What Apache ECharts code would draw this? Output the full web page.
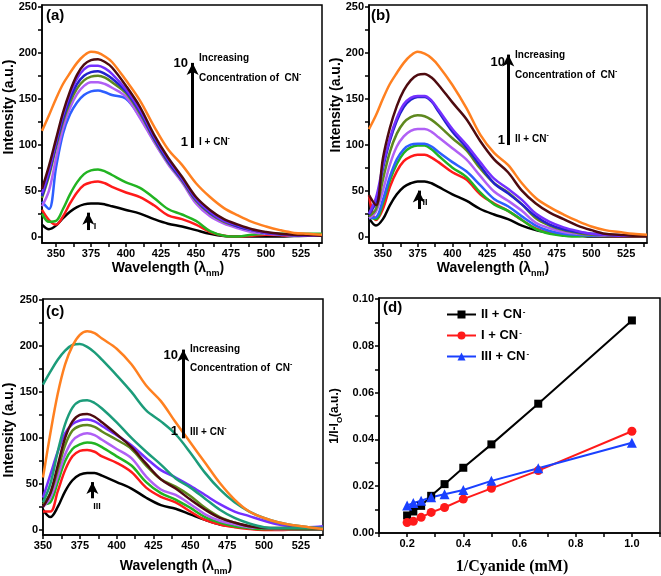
<!DOCTYPE html>
<html><head><meta charset="utf-8">
<script src="https://cdn.jsdelivr.net/npm/echarts@6/dist/echarts.min.js"></script>
<style>html,body{margin:0;padding:0;background:#fff}#c{width:661px;height:576px}</style>
</head><body><div id="c"></div>
<script>
// ---------- data ----------
const wlAB = [340,345,350,355,360,365,370,375,380,385,390,400,410,420,430,440,450,460,470,480,490,500,510,520,530,540];
const wlC  = [350,355,360,365,370,375,380,385,390,400,410,420,430,440,450,460,470,480,490,500,510,520,530,540];

// panel (a)  I + CN-
const a1 = [13,8,12,20,27,32,35,36,36,35,33,29,25,19,14,11,7,3,0.5,0,0,0,0,0.5,1,1];
const a2 = [29,18,13,22,36,48,56,59,60,58,54,48,43,34,23,19,13,5,1,0,1,2,1.5,1,1,1];
const a3 = [25,16,17,30,46,59,68,72,73,71,67,59,53,42,30,24,17,6,1,0,2,3,3,3,3,3];
const a4 = [38,30,75,112,133,146,154,158,159,157,154,150,130,104,80,60,38,24,15,10,6,4,2.5,1.5,1,1];
const a5 = [33,50,85,118,140,155,164,168,168,166,162,152,129,103,79,59,36,22,14,9,5,3,2,1,1,1];
const a6 = [42,66,97,125,146,161,170,174,175,173,168,156,134,106,81,61,39,25,16,11,7,4,2.5,1.5,1,1];
const a7 = [44,69,100,128,150,166,175,179,180,177,172,158,136,107,82,62,40,26,17,11,7,4,2.5,1.5,1,1];
const a8 = [47,72,103,132,155,172,182,186,186,183,177,160,138,109,84,63,41,27,17,12,7,4,2.5,1.5,1,1];
const a9 = [52,77,106,135,158,176,187,192,193,190,184,164,141,111,86,65,43,29,19,13,8,5,3,2,1.5,1];
const a10= [115,132,150,166,178,189,197,201,200,196,190,170,148,120,95,78,58,43,31,23,16,11,7,4,3,2];

// panel (b)  II + CN-
const b1 = [20,12,19,34,46,54,58,60,60,58,54,46,39,30,24,19,12,7,4,2,1,0,0,0,0,0];
const b2 = [45,18,30,54,71,82,87,89,89,86,81,70,62,46,36,28,18,9,4,2,1,1,1,0.5,0.5,0.5];
const b3 = [22,19,36,61,79,91,97,99,99,95,88,75,65,48,35,28,18,8,3,1,0,1,1,1,1,1];
const b4 = [20,21,40,65,84,95,100,101,101,98,92,81,71,56,41,33,22,12,6,3,2,1,1,1,1,1];
const b5 = [20,27,50,78,98,109,115,117,117,114,108,96,84,66,49,39,28,15,9,5,3,2,1,1,1,1];
const b6 = [22,30,62,92,112,124,130,132,131,127,121,107,94,74,58,48,35,20,12,7,4,2,1.5,1,1,1];
const b7 = [24,38,74,104,126,141,149,152,152,147,136,114,97,77,58,47,35,22,13,8,5,3,2,1,1,1];
const b8 = [25,42,77,107,129,144,151,153,153,148,138,117,100,81,63,52,40,25,16,10,6,3,2,1,1,1];
const b9 = [45,34,85,118,142,159,170,176,177,173,165,146,128,104,84,70,50,36,26,19,12,7,3,2,1,1];
const b10= [117,132,150,166,178,189,197,201,199,194,186,165,140,111,91,78,58,42,32,24,17,11,7,5,3,2];

// panel (c)  III + CN-
const c1 = [22,14,25,42,54,60,62,62,59,52,45,35,27,23,17,11,6,4,2,1,1,0.5,0.5,0.5];
const c2 = [20,20,42,65,80,86,87,85,80,73,63,46,36,30,20,11,6,3,1,0,0,0.5,1,1];
const c3 = [28,30,52,75,88,93,95,94,90,80,70,52,40,33,24,14,8,4,2,1,1,1,1,1];
const c4 = [25,35,58,82,97,103,105,103,98,88,78,58,44,38,28,17,10,6,3,2,1,1,1,1];
const c5 = [28,40,65,92,108,113,114,112,107,98,88,70,55,47,37,24,14,8,4,2,1.5,1,1,1];
const c6 = [35,60,85,105,115,119,120,118,113,103,92,78,65,57,48,38,28,20,15,10,6,4,3,4];
const c7 = [25,40,70,100,118,125,126,123,117,104,90,72,55,45,33,22,13,8,4,2,2,2,2,1];
const c8 = [30,50,85,115,133,140,141,138,132,117,100,85,71,56,46,34,22,13,7,3,2,2,2,2];
const c9 = [158,172,185,195,201,202,199,193,185,168,150,130,118,104,84,62,44,30,20,13,8,5,3,2];
const c10= [57,105,148,180,200,212,216,214,208,197,180,157,140,117,95,73,51,33,20,13,8,5,3,1];

// panel (d)
const dX   = [0.2,0.2222,0.25,0.2857,0.3333,0.4,0.5,0.6667,1.0];
const dII  = [0.0075,0.0092,0.0116,0.0159,0.0209,0.0279,0.0379,0.0553,0.0909];
const dI   = [0.0045,0.0050,0.0067,0.0088,0.0109,0.0145,0.0191,0.0267,0.0435];
const dIII = [0.0118,0.0128,0.0138,0.0153,0.0166,0.0184,0.0223,0.0277,0.0386];

const specLabels = [350,375,400,425,450,475,500,525];
const specTicks  = [350,362.5,375,387.5,400,412.5,425,437.5,450,462.5,475,487.5,500,512.5,525,537.5];
const intLabels  = [0,50,100,150,200,250];
const intTicks   = [0,25,50,75,100,125,150,175,200,225,250];
const dXLabels = [0.2,0.4,0.6,0.8,1.0];
const dXTicks  = [0.1,0.2,0.3,0.4,0.5,0.6,0.7,0.8,0.9,1.0,1.1];
const dYLabels = [0,0.02,0.04,0.06,0.08,0.10];
const dYTicks  = [0,0.01,0.02,0.03,0.04,0.05,0.06,0.07,0.08,0.09,0.10];

// ---------- styling ----------
const FONT = '"Liberation Sans", Arial, sans-serif';
const C = {black:'#000000', red:'#ff1a1a', green:'#22b422', blue:'#2d5eff', violet:'#b060f5',
  olive:'#5e881e', navy:'#2222cc', purple:'#7430ff', wine:'#4e0b10', orange:'#ff8020', teal:'#1c9c7a'};

const chart = echarts.init(document.getElementById('c'), null, {renderer:'canvas'});

const grids = [
  {left:42, top:5, width:280, height:238},
  {left:369, top:5, width:278, height:238},
  {left:43, top:299, width:280, height:236},
  {left:379, top:298, width:281, height:235}
].map(g => Object.assign({show:true, borderColor:'#000', borderWidth:1.5, containLabel:false}, g));

const lbl = {color:'#000', fontWeight:'bold', fontSize:11, fontFamily:FONT, margin:5};
function xAx(gi, min, max, labels, ticks, fmt) {
  return {type:'value', gridIndex:gi, min, max,
    axisLine:{show:true, onZero:false, lineStyle:{color:'#000', width:1.5}},
    axisTick:{show:true, length:4, customValues:ticks, lineStyle:{color:'#000', width:1.5}},
    axisLabel:Object.assign({customValues:labels, formatter:fmt}, lbl),
    splitLine:{show:false}};
}
function yAx(gi, min, max, labels, ticks, fmt) {
  return {type:'value', gridIndex:gi, min, max,
    axisLine:{show:true, onZero:false, lineStyle:{color:'#000', width:1.5}},
    axisTick:{show:true, length:4, customValues:ticks, lineStyle:{color:'#000', width:1.5}},
    axisLabel:Object.assign({customValues:labels, formatter:fmt}, lbl),
    splitLine:{show:false}};
}

const series = [];
function spec(gi, xs, ys, color, mark) {
  const s = {type:'line', xAxisIndex:gi, yAxisIndex:gi, data: xs.map((x,i)=>[x, ys[i]]),
    smooth:0.35, showSymbol:false, symbol:'none', silent:true, animation:false,
    lineStyle:{color, width:2.5}, itemStyle:{color}, z:2};
  if (mark) s.markLine = {silent:true, animation:false, symbol:['none','arrow'], symbolSize:[9,12],
    label:{show:false}, emphasis:{disabled:true}, lineStyle:{color:'#000', width:3, type:'solid'},
    itemStyle:{color:'#000'}, data:mark};
  series.push(s);
}
const arrowsA = [[{coord:[447.6,96.4]},{coord:[447.6,189]}], [{coord:[373.1,7.1]},{coord:[373.1,26]}]];
const arrowsB = [[{coord:[440.2,99.6]},{coord:[440.2,198]}], [{coord:[375.8,30]},{coord:[375.8,50]}]];
const arrowsC = [[{coord:[445.2,99.6]},{coord:[445.2,196]}], [{coord:[383.5,34.4]},{coord:[383.5,52]}]];

const aCols = [C.black,C.red,C.green,C.blue,C.violet,C.olive,C.navy,C.purple,C.wine,C.orange];
[a1,a2,a3,a4,a5,a6,a7,a8,a9,a10].forEach((d,i)=>spec(0, wlAB, d, aCols[i], i===0?arrowsA:null));
[b1,b2,b3,b4,b5,b6,b7,b8,b9,b10].forEach((d,i)=>spec(1, wlAB, d, aCols[i], i===0?arrowsB:null));
const cCols = [C.black,C.red,C.green,C.violet,C.olive,C.purple,C.wine,C.teal,C.teal,C.orange];
[c1,c2,c3,c4,c5,c6,c7,c8,c9,c10].forEach((d,i)=>spec(2, wlC, d, cCols[i], i===0?arrowsC:null));

function dser(name, ys, color, symbol, size) {
  series.push({type:'line', name, xAxisIndex:3, yAxisIndex:3, data:dX.map((x,i)=>[x, ys[i]]),
    symbol, symbolSize:size, showSymbol:true, silent:true, animation:false,
    lineStyle:{color, width:2}, itemStyle:{color}, z:3});
}
dser('II + CN', dII, '#000000', 'rect', 8);
dser('I + CN', dI, '#ff1a1a', 'circle', 9);
dser('III + CN', dIII, '#1a40ff', 'triangle', 10);

const supRich = {sup:{fontSize:8, fontWeight:'bold', fontFamily:FONT, color:'#000', verticalAlign:'top', lineHeight:8, padding:[0,0,0,1]}};

chart.setOption({
  animation:false,
  backgroundColor:'#fff',
  grid: grids,
  xAxis: [
    xAx(0, 340, 540, specLabels, specTicks),
    xAx(1, 340, 540, specLabels, specTicks),
    xAx(2, 350, 540, specLabels, specTicks),
    xAx(3, 0.1, 1.1, dXLabels, dXTicks, v => (+v).toFixed(1))
  ],
  yAxis: [
    yAx(0, -7, 252, intLabels, intTicks),
    yAx(1, -7, 252, intLabels, intTicks),
    yAx(2, -5.5, 251, intLabels, intTicks),
    yAx(3, 0, 0.1005, dYLabels, dYTicks, v => (+v).toFixed(2))
  ],
  legend: {data:['II + CN','I + CN','III + CN'], orient:'vertical', left:446, top:308, padding:0,
    itemWidth:29, itemHeight:10, itemGap:8, selectedMode:false,
    formatter: n => n + '{sup|-}',
    textStyle:{fontSize:13, fontWeight:'bold', fontFamily:FONT, color:'#000', rich:supRich}},
  series
});

// ---------- annotation texts (pixel layout) ----------
function T(x, y, text, size, o) {
  o = o || {};
  return {type:'text', x, y, rotation:o.rot||0, silent:true, z:10,
    style:{text, fill:'#000', fontSize:size, fontWeight:'bold', fontFamily:o.family||FONT,
      align:o.align||'left', verticalAlign:'middle', textAlign:o.align||'left', textVerticalAlign:'middle',
      lineHeight:o.lh||size+2,
      rich:{
        sup:{fontSize:Math.round(size*0.7), fontWeight:'bold', fontFamily:FONT, fill:'#000', verticalAlign:'top', lineHeight:Math.round(size*0.7)},
        sub:{fontSize:Math.round(size*0.65), fontWeight:'bold', fontFamily:o.family||FONT, fill:'#000', verticalAlign:'bottom', lineHeight:Math.round(size*0.65)}
      }}};
}
const g = [];
// panel letters
g.push(T(46, 16, '(a)', 15), T(371, 16, '(b)', 15), T(46, 312, '(c)', 15), T(383, 308, '(d)', 15));
// axis titles
g.push(T(168, 268, 'Wavelength (λ{sub|nm})', 14, {align:'center', lh:20}));
g.push(T(493, 268, 'Wavelength (λ{sub|nm})', 14, {align:'center', lh:20}));
g.push(T(176, 566, 'Wavelength (λ{sub|nm})', 14, {align:'center', lh:20}));
g.push(T(9, 107, 'Intensity (a.u.)', 14, {align:'center', rot:Math.PI/2}));
g.push(T(336, 105, 'Intensity (a.u.)', 14, {align:'center', rot:Math.PI/2}));
g.push(T(9, 430, 'Intensity (a.u.)', 14, {align:'center', rot:Math.PI/2}));
g.push(T(512, 567, '1/Cyanide (mM)', 16, {align:'center', family:'"Liberation Serif", "Times New Roman", serif'}));
g.push(T(335, 416, '1/I-I{sub|O}(a.u.)', 12, {align:'center', rot:Math.PI/2, lh:18}));
// annotations (a)
g.push(T(188, 63, '10', 13, {align:'right'}), T(188, 142, '1', 13, {align:'right'}));
g.push(T(199, 58, 'Increasing', 10), T(199, 78, 'Concentration of  CN{sup|-}', 10, {lh:14}), T(199, 142, 'I + CN{sup|-}', 10, {lh:14}));
g.push(T(95, 227, 'I', 9, {align:'center'}));
// annotations (b)
g.push(T(505, 62, '10', 13, {align:'right'}), T(505, 140, '1', 13, {align:'right'}));
g.push(T(515, 55, 'Increasing', 10), T(515, 75, 'Concentration of  CN{sup|-}', 10, {lh:14}), T(515, 139, 'II + CN{sup|-}', 10, {lh:14}));
g.push(T(425, 203, 'II', 9, {align:'center'}));
// annotations (c)
g.push(T(178, 355, '10', 13, {align:'right'}), T(178, 431, '1', 13, {align:'right'}));
g.push(T(190, 349, 'Increasing', 10), T(190, 368, 'Concentration of  CN{sup|-}', 10, {lh:14}), T(190, 432, 'III + CN{sup|-}', 10, {lh:14}));
g.push(T(97, 507, 'III', 9, {align:'center'}));
chart.setOption({graphic: g});
</script></body></html>
